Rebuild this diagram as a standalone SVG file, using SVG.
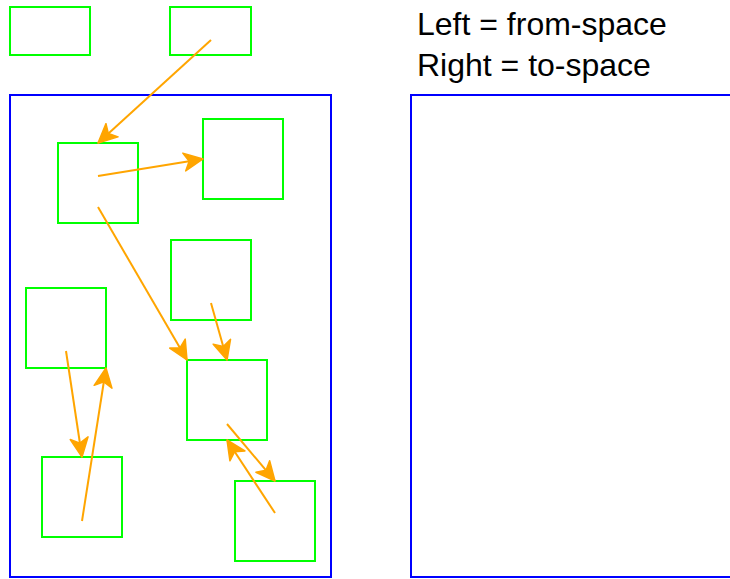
<svg xmlns="http://www.w3.org/2000/svg" width="730" height="579" viewBox="0 0 730 579">
<style>
.space{fill:none;stroke:#0000FF;stroke-width:2}
.obj{fill:none;stroke:#00FF00;stroke-width:2}
.ptr{fill:none;stroke:#FFA500;stroke-width:2;marker-end:url(#ah)}
.lbl{font-family:"Liberation Sans",Arial,sans-serif;font-size:32px;fill:#000}
</style>
<defs>
<marker id="ah" markerUnits="userSpaceOnUse" viewBox="-1 -1 21 20" markerWidth="21" markerHeight="20" refX="19" refY="9" orient="auto">
<path d="M0,0 L19,9 L0,18 L5,9 z" fill="#FFA500" stroke="#FFA500" stroke-width="1.5" stroke-linejoin="round"/>
</marker>
</defs>
<g id="from-space"><rect class="space" x="10" y="95" width="321" height="482"/></g>
<g id="to-space"><rect class="space" x="411" y="95" width="330" height="482"/></g>
<g id="legend">
<text class="lbl" x="417" y="35">Left = from-space</text>
<text class="lbl" x="417" y="76">Right = to-space</text>
</g>
<g id="root1"><rect class="obj" x="10" y="7" width="80" height="48"/></g>
<g id="root2"><rect class="obj" x="170" y="7" width="81" height="48"/></g>
<g id="objA"><rect class="obj" x="58" y="143" width="80" height="80"/></g>
<g id="objB"><rect class="obj" x="203" y="119" width="80" height="80"/></g>
<g id="objC"><rect class="obj" x="171" y="240" width="80" height="80"/></g>
<g id="objD"><rect class="obj" x="187" y="360" width="80" height="80"/></g>
<g id="objE"><rect class="obj" x="235" y="481" width="80" height="80"/></g>
<g id="objF"><rect class="obj" x="26" y="288" width="80" height="80"/></g>
<g id="objG"><rect class="obj" x="42" y="457" width="80" height="80"/></g>
<g id="connectors">
<line class="ptr" x1="211" y1="40" x2="98" y2="143"/>
<line class="ptr" x1="98" y1="176" x2="203" y2="159"/>
<line class="ptr" x1="98" y1="207" x2="187" y2="360"/>
<line class="ptr" x1="211" y1="303" x2="227" y2="360"/>
<line class="ptr" x1="227" y1="424" x2="275" y2="481"/>
<line class="ptr" x1="275" y1="513" x2="227" y2="440"/>
<line class="ptr" x1="66" y1="351" x2="82" y2="457"/>
<line class="ptr" x1="82" y1="521" x2="106" y2="368"/>
</g>
</svg>
